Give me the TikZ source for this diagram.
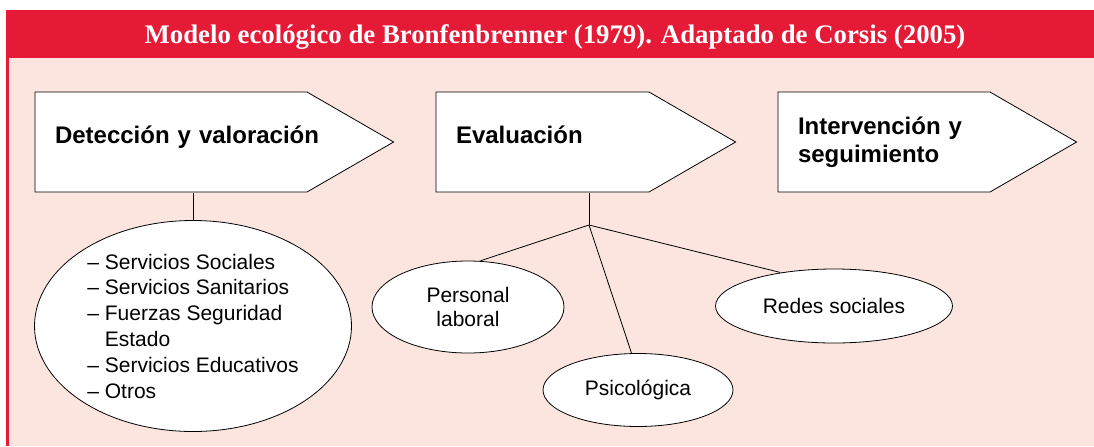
\documentclass[tikz,border=0pt]{standalone}
\usepackage{fontspec}
\setmainfont{Liberation Serif}
\setsansfont{Liberation Sans}
\usetikzlibrary{shapes.geometric,shapes.symbols}
\definecolor{rojo}{RGB}{228,26,55}
\definecolor{rosa}{RGB}{252,229,223}

\begin{document}
\begin{tikzpicture}[x=0.5pt, y=-0.5pt]
\tikzset{ line width=0.6pt,
  flecha/.style={signal, signal to=east, signal pointer angle=60, draw, fill=white,
    inner xsep=10pt, inner ysep=0pt, minimum height=50pt, align=left,
    font=\sffamily\bfseries\fontsize{12}{14}\selectfont},
  elipse/.style={ellipse, draw, fill=white, inner sep=0pt,
    font=\sffamily\fontsize{10.5}{12}\selectfont},
}

%\draw [lightgray, dashed](0,0) grid [step=50] (1094,446);
\useasboundingbox (0,0) rectangle (1094,446);

\fill [rosa] (6,58) rectangle (1094,446);
\fill [rojo] (6,10) rectangle (1094,58);
\fill [rojo] (6,58) rectangle (9,446);

\node [anchor=base, text=white, font=\bfseries\fontsize{13.4}{16}\selectfont] (titulo) at (555,43)
  {Modelo ecológico de Bronfenbrenner (1979). Adaptado de Corsis (2005)};

\node [flecha, text width=116pt, text depth=7pt] (det) at (171,142) {\mbox{Detección y valoración}};
\node [flecha, text width=86.5pt, text depth=7pt] (eva) at (542.5,142) {Evaluación};
\node [flecha, text width=86pt] (int) at (884,142) {Intervención y\\seguimiento};

\node [elipse, minimum width=158.5pt, minimum height=105.5pt, align=left,
  font=\sffamily\fontsize{10.5}{12.9}\selectfont] (lista) at (193,326)
  {-- Servicios Sociales\\-- Servicios Sanitarios\\-- Fuerzas Seguridad\\\phantom{-- }Estado\\-- Servicios Educativos\\-- Otros};

\node [elipse, minimum width=96pt, minimum height=46pt, align=center] (pers) at (468,307) {Personal\\laboral};
\node [elipse, minimum width=95pt, minimum height=36.5pt] (psico) at (638,390) {Psicológica};
\node [elipse, minimum width=118.5pt, minimum height=37pt] (redes) at (834,306) {Redes sociales};

\coordinate (J) at (589,225);

\draw (lista.north) -- (lista.north |- det.south);
\draw (eva.south -| J) -- (J);
\draw (J) -- (pers.75);
\draw (J) -- (psico.100);
\draw (J) -- (redes.148);

\end{tikzpicture}
\end{document}
